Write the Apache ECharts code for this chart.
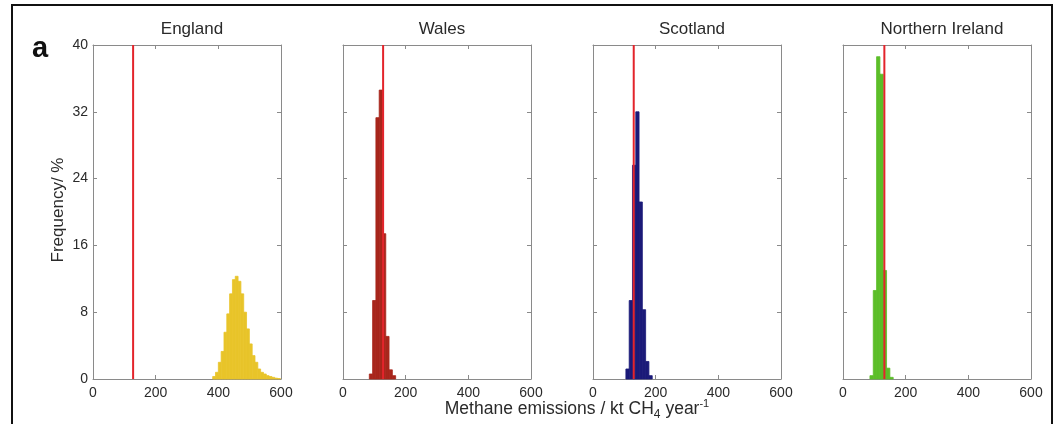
<!DOCTYPE html>
<html>
<head>
<meta charset="utf-8">
<script src="https://cdn.jsdelivr.net/npm/echarts@6/dist/echarts.min.js"></script>
<style>
  html, body { margin: 0; padding: 0; background: #fff; }
  #chart { width: 1058px; height: 424px; }
</style>
</head>
<body>
<div id="chart"></div>
<script>
// Posterior distributions of methane emissions by UK region (histograms, % per bin)
const regions = ['England', 'Wales', 'Scotland', 'Northern Ireland'];

// first bin edge and bin width (kt CH4 / yr) for each region
const binStarts = [382, 84, 105, 86];
const binWidths = [9, 10.5, 10.5, 10.6];

// frequency of each bin, %
const englandFreq = [0.3, 0.8, 2.0, 3.3, 5.6, 7.8, 10.2, 11.9, 12.3, 11.7, 10.2, 8.0,
                     6.0, 4.2, 2.8, 2.0, 1.2, 0.8, 0.6, 0.4, 0.3, 0.2, 0.1, 0.05];
const walesFreq    = [0.6, 9.4, 31.3, 34.6, 17.4, 5.1, 1.1, 0.4];
const scotlandFreq = [1.2, 9.4, 25.6, 32.0, 21.2, 8.3, 2.1, 0.4];
const niFreq       = [0.4, 10.6, 38.6, 36.5, 13.0, 1.3, 0.2];

// inventory estimate for each region (vertical red line)
const inventory = [128, 128, 130, 132];

// axis ticks
const xTicks = [0, 200, 400, 600];
const yTicks = [0, 8, 16, 24, 32, 40];

const freqs = [englandFreq, walesFreq, scotlandFreq, niFreq];
const barColors = ['#e8c42a', '#a8261c', '#1b1a78', '#5cbe28'];
const lineColor = '#e3242b';
const axisGrey = '#8a8a8a';
const textColor = '#2a2a2a';
const fontFamily = '"Liberation Sans", Arial, Helvetica, sans-serif';

const gridLefts = [93, 343, 593, 843];
const gridWidth = 188;
const gridTop = 45;
const gridHeight = 334;

const grids = [], xAxes = [], yAxes = [], series = [], titles = [];

regions.forEach((name, i) => {
  grids.push({ left: gridLefts[i], top: gridTop, width: gridWidth, height: gridHeight, containLabel: false });

  const xBase = {
    gridIndex: i, type: 'value', min: xTicks[0], max: xTicks[xTicks.length - 1],
    interval: xTicks[1] - xTicks[0],
    axisLine: { show: true, onZero: false, lineStyle: { color: axisGrey, width: 1 } },
    axisTick: { show: true, inside: true, length: 4, lineStyle: { color: axisGrey } },
    splitLine: { show: false }
  };
  xAxes.push(Object.assign({}, xBase, {
    position: 'bottom',
    axisLabel: { show: true, color: textColor, fontSize: 14, fontFamily: fontFamily, margin: 7 }
  }));
  xAxes.push(Object.assign({}, xBase, { position: 'top', axisLabel: { show: false } }));

  const yBase = {
    gridIndex: i, type: 'value', min: yTicks[0], max: yTicks[yTicks.length - 1],
    interval: yTicks[1] - yTicks[0],
    axisLine: { show: true, onZero: false, lineStyle: { color: axisGrey, width: 1 } },
    axisTick: { show: true, inside: true, length: 4, lineStyle: { color: axisGrey } },
    splitLine: { show: false }
  };
  yAxes.push(Object.assign({}, yBase, {
    position: 'left',
    axisLabel: { show: i === 0, color: textColor, fontSize: 14, fontFamily: fontFamily, margin: 5 }
  }));
  yAxes.push(Object.assign({}, yBase, { position: 'right', axisLabel: { show: false } }));

  const start = binStarts[i], w = binWidths[i];
  const bins = freqs[i].map((f, k) => [start + k * w, start + (k + 1) * w, f]);
  const color = barColors[i];

  series.push({
    type: 'custom',
    xAxisIndex: 2 * i, yAxisIndex: 2 * i,
    encode: { x: [0, 1], y: 2 },
    data: bins,
    z: 2,
    renderItem: function (params, api) {
      const topLeft = api.coord([api.value(0), api.value(2)]);
      const bottomRight = api.coord([api.value(1), 0]);
      // a thin same-colour outline closes the seams between adjacent bins
      return {
        type: 'rect',
        shape: { x: topLeft[0], y: topLeft[1], width: bottomRight[0] - topLeft[0], height: bottomRight[1] - topLeft[1] },
        style: { fill: color, stroke: color, lineWidth: 0.8 }
      };
    }
  });

  series.push({
    type: 'line',
    xAxisIndex: 2 * i, yAxisIndex: 2 * i,
    data: [[inventory[i], yTicks[0]], [inventory[i], yTicks[yTicks.length - 1]]],
    symbol: 'none',
    z: 3,
    lineStyle: { color: lineColor, width: 2 },
    animation: false
  });

  titles.push({
    text: name,
    left: gridLefts[i] + gridWidth / 2,
    top: 16,
    textAlign: 'center',
    textStyle: { fontSize: 17, fontWeight: 'normal', color: textColor, fontFamily: fontFamily }
  });
});

const chart = echarts.init(document.getElementById('chart'), null, { renderer: 'canvas' });
chart.setOption({
  animation: false,
  backgroundColor: '#ffffff',
  title: titles,
  grid: grids,
  xAxis: xAxes,
  yAxis: yAxes,
  series: series,
  graphic: [
    {
      type: 'rect', z: 10, silent: true,
      shape: { x: 12, y: 5, width: 1040, height: 440 },
      style: { fill: null, stroke: '#111', lineWidth: 2 }
    },
    {
      type: 'text', left: 32, top: 34, z: 10,
      style: { text: 'a', font: 'bold 29px ' + fontFamily, fill: '#111' }
    },
    {
      type: 'text', z: 10, rotation: Math.PI / 2,
      x: 58, y: 210,
      style: {
        text: 'Frequency/ %', font: '17px ' + fontFamily, fill: textColor,
        textAlign: 'center', textVerticalAlign: 'middle'
      }
    },
    {
      type: 'text', z: 10,
      x: 577, y: 409,
      style: {
        text: '{m|Methane emissions / kt CH}{sub|4}{m| year}{sup|-1}',
        textAlign: 'center', textVerticalAlign: 'middle',
        rich: {
          m: { font: '17.5px ' + fontFamily, fill: textColor, color: textColor },
          sub: { font: '12px ' + fontFamily, fill: textColor, color: textColor, padding: [11, 0, 0, 0] },
          sup: { font: '11px ' + fontFamily, fill: textColor, color: textColor, padding: [0, 0, 11, 0] }
        }
      }
    }
  ]
});
</script>
</body>
</html>
